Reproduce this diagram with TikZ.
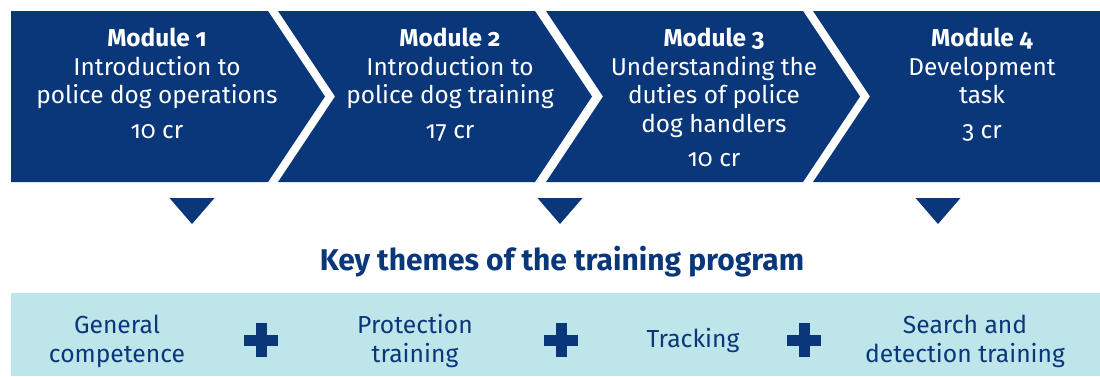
\documentclass[tikz,border=0pt]{standalone}
\usepackage{fontspec}
\setmainfont{Fira Sans}[Numbers=OldStyle]
\usepackage{tikz}
\usetikzlibrary{positioning}
\definecolor{policeblue}{HTML}{0A377A}
\definecolor{themeblue}{HTML}{BEE6EA}

\begin{document}
\begin{tikzpicture}[
      x=0.75pt, y=0.75pt,
      module/.style={
        anchor=north,
        align=center,
        inner sep=0pt,
        text=white,
        font=\fontsize{18.3}{21.4}\selectfont,
      },
      theme/.style={
        align=center,
        inner sep=0pt,
        text=policeblue,
        font=\fontsize{18.5}{21.8}\selectfont,
      },
      title/.style={
        anchor=base,
        inner sep=0pt,
        text=policeblue,
        font=\bfseries\fontsize{22.5}{26}\selectfont,
      },
      pointer/.style={fill=policeblue},
    ]
      \useasboundingbox (0,0) rectangle (1100,376);

      % module chevrons
      \fill[policeblue] (11,194) -- (11,365) -- (268,365) -- (325,279.5) -- (268,194) -- cycle;
      \foreach \x in {278,546} {
        \fill[policeblue] (\x,194) -- (\x+57,279.5) -- (\x,365) -- (\x+257,365)
          -- (\x+314,279.5) -- (\x+257,194) -- cycle;
      }
      \fill[policeblue] (813,194) -- (870,279.5) -- (813,365) -- (1100,365) -- (1100,194) -- cycle;

      % module texts
      \node[module] (mod1) at (157,348) {\textbf{Module 1}\\Introduction to\\police dog operations\\[4.5pt]10 cr};
      \node[module] (mod2) at (450,348) {\textbf{Module 2}\\Introduction to\\police dog training\\[4.5pt]17 cr};
      \node[module] (mod3) at (714,348) {\textbf{Module 3}\\Understanding the\\duties of police\\dog handlers\\[4.5pt]10 cr};
      \node[module] (mod4) at (982,348) {\textbf{Module 4}\\Development\\task\\[4.5pt]3 cr};

      % pointers down to the themes
      \foreach \x in {192,560,938}
        \fill[pointer] (\x-22.5,178) -- (\x+22.5,178) -- (\x,152) -- cycle;

      \node[title] (keythemes) at (562,106) {Key themes of the training program};

      % theme band
      \fill[themeblue] (11,0) rectangle (1100,83);
      \node[theme] (general) at (117,35) {General\\competence};
      \node[theme] (protection) at (415,35) {Protection\\training};
      \node[theme] (tracking) at (693,35) {Tracking};
      \node[theme] (search) at (965,35) {Search and\\detection training};

      % plus signs
      \foreach \x in {261,561,804} {
        \fill[policeblue] (\x-17,30.5) rectangle (\x+17,41.5);
        \fill[policeblue] (\x-5.5,19) rectangle (\x+5.5,53);
      }
    \end{tikzpicture}
\end{document}
